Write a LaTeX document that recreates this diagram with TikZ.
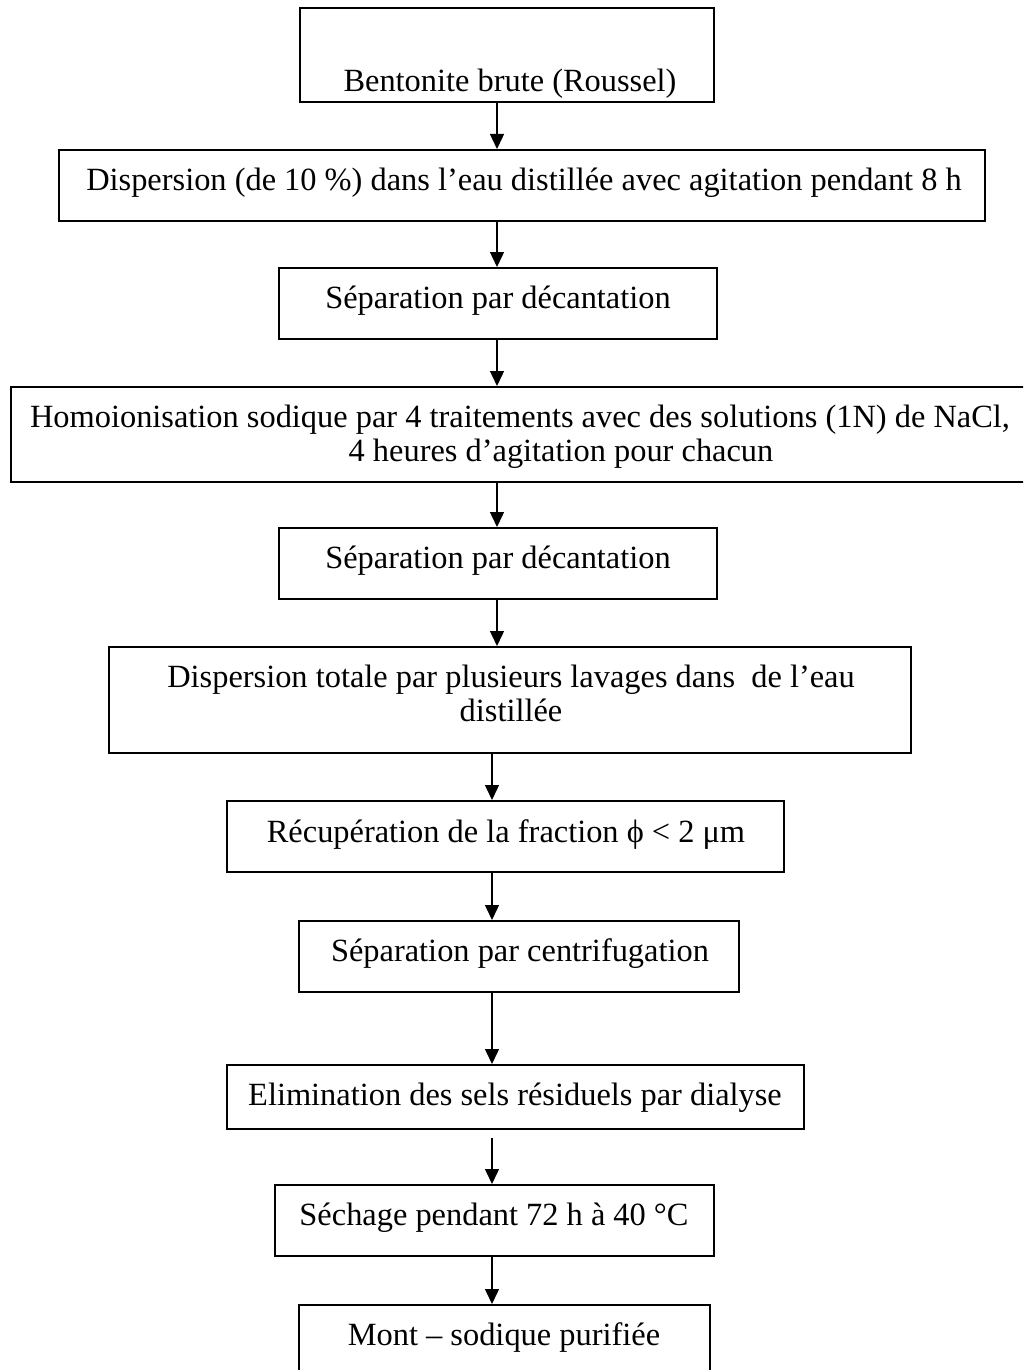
\documentclass[tikz,border=0pt]{standalone}
\usepackage{fontspec}
\setmainfont{Liberation Serif}
\usetikzlibrary{arrows.meta,fit}
\begin{document}
\begin{tikzpicture}[x=0.5pt, y=-0.5pt,
  stepbox/.style={draw=black, line width=1pt, fill=white, inner sep=0pt},
  txt/.style={anchor=base, inner sep=0pt, font=\fontsize{16.2}{18}\selectfont},
  flow/.style={line width=0.7pt, -{Triangle[length=7.5pt, width=7pt]}}]
\useasboundingbox (0,0) rectangle (1023,1370);
\clip (0,0) rectangle (1023,1370);

% boxes: corners in pixel units, y pointing down
\node[stepbox, fit={(300,8) (714,102)}] (b1) {};
\node[stepbox, fit={(59,150) (985,221)}] (b2) {};
\node[stepbox, fit={(279,268) (717,339)}] (b3) {};
\node[stepbox, fit={(11,387) (1040,482)}] (b4) {};
\node[stepbox, fit={(279,528) (717,599)}] (b5) {};
\node[stepbox, fit={(109,647) (911,753)}] (b6) {};
\node[stepbox, fit={(227,801) (784,872)}] (b7) {};
\node[stepbox, fit={(299,921) (739,992)}] (b8) {};
\node[stepbox, fit={(227,1065) (804,1129)}] (b9) {};
\node[stepbox, fit={(275,1185) (714,1256)}] (b10) {};
\node[stepbox, fit={(299,1305) (710,1400)}] (b11) {};

% labels
\node[txt] (t1) at (510,91) {Bentonite brute (Roussel)};
\node[txt] (t2) at (524,191) {Dispersion (de 10 \%) dans l’eau distillée avec agitation pendant 8 h};
\node[txt] (t3) at (498,308) {Séparation par décantation};
\node[txt] (t4a) at (520,427) {Homoionisation sodique par 4 traitements avec des solutions (1N) de NaCl,};
\node[txt] (t4b) at (561,461) {4 heures d’agitation pour chacun};
\node[txt] (t5) at (498,568) {Séparation par décantation};
\node[txt] (t6a) at (511,687) {Dispersion totale par plusieurs lavages dans\ \ de l’eau};
\node[txt] (t6b) at (511,721) {distillée};
\node[txt] (t7) at (506,842) {Récupération de la fraction ϕ < 2 μm};
\node[txt] (t8) at (520,961) {Séparation par centrifugation};
\node[txt] (t9) at (515,1105) {Elimination des sels résiduels par dialyse};
\node[txt] (t10) at (494,1225) {Séchage pendant 72 h à 40 °C};
\node[txt] (t11) at (504,1345) {Mont – sodique purifiée};

% vertical guides for the connectors
\coordinate (upper) at (497,0);
\coordinate (lower) at (492,0);

% connectors
\draw[flow] (b1.south -| upper) -- (b2.north -| upper);
\draw[flow] (b2.south -| upper) -- (b3.north -| upper);
\draw[flow] (b3.south -| upper) -- (b4.north -| upper);
\draw[flow] (b4.south -| upper) -- (b5.north -| upper);
\draw[flow] (b5.south -| upper) -- (b6.north -| upper);
\draw[flow] (b6.south -| lower) -- (b7.north -| lower);
\draw[flow] (b7.south -| lower) -- (b8.north -| lower);
\draw[flow] (b8.south -| lower) -- (b9.north -| lower);
\draw[flow] ([yshift=-4pt]b9.south -| lower) -- (b10.north -| lower);
\draw[flow] (b10.south -| lower) -- (b11.north -| lower);
\end{tikzpicture}
\end{document}
